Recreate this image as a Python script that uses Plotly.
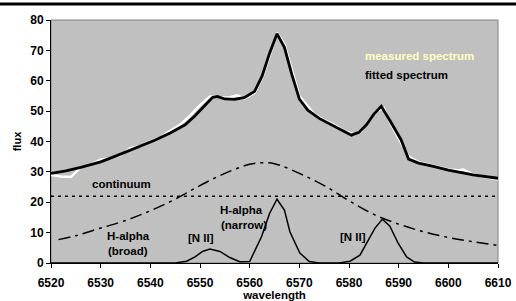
import plotly.graph_objects as go

# Measured spectrum
meas_wl = [6520, 6522, 6524, 6526, 6528, 6530, 6532, 6534, 6536, 6538, 6540, 6542, 6544, 6546, 6548,
           6550, 6552, 6554, 6556, 6557.5, 6559, 6561, 6562.5, 6564, 6565.5, 6567, 6568.5, 6570,
           6571.5, 6573, 6575, 6577, 6579, 6581, 6582.5, 6584, 6585.5, 6587, 6588.5, 6590, 6592,
           6594, 6596, 6598, 6600, 6602, 6603, 6605, 6607, 6610]
meas_flux = [29, 28.5, 28.3, 31.5, 32.5, 34, 34.5, 35.5, 37.8, 38.5, 40, 41.3, 43.5, 45.5, 48.5,
             52, 54.8, 54.5, 54.6, 55.2, 54.2, 56, 61, 68, 75.8, 72, 63.5, 55,
             52, 49, 47, 45.5, 43.5, 42.3, 43.5, 47, 50, 51, 45.5, 41, 35,
             33.2, 32.3, 31.6, 30.8, 30.5, 30.8, 29.2, 28.5, 27.5]

# Fitted spectrum
fit_wl = [6520, 6523, 6526, 6530, 6533, 6536, 6538, 6541, 6544, 6547, 6549, 6551, 6552.5, 6553.5,
          6555, 6557, 6559, 6561, 6562.5, 6564, 6565.5, 6567, 6568.5, 6570, 6571.7, 6574, 6577,
          6580.5, 6582, 6583.5, 6585, 6586.5, 6588.2, 6590.5, 6592, 6594, 6597, 6600, 6605, 6610]
fit_flux = [29.5, 30.3, 31.5, 33.3, 35.2, 37.2, 38.3, 40.5, 42.8, 45.5, 48.5, 52, 54.5, 54.8,
            54, 53.9, 54.5, 56.5, 61.5, 69, 75.5, 71, 62, 54, 50.3, 47.6, 45,
            42.1, 43, 45.5, 49, 51.6, 47, 40.5, 34.2, 32.9, 31.8, 30.6, 29, 27.9]

# Continuum
cont_wl = [6520, 6610]
cont_flux = [22, 22]

# H-alpha broad
broad_wl = [6521.5, 6525, 6530, 6535, 6540, 6545, 6550, 6555, 6560, 6562.5, 6565, 6570, 6575,
            6580, 6585, 6590, 6595, 6600, 6605, 6610]
broad_flux = [7.7, 9, 11.5, 14, 17.2, 21, 25.5, 29.5, 32.5, 33, 32.7, 29.5, 25.5,
              20.5, 16, 12.8, 10.3, 8.4, 7, 5.8]

# Narrow components ([N II], H-alpha narrow, [N II])
narrow_wl = [6520, 6545, 6547.3, 6549, 6550.5, 6552, 6554, 6556, 6558, 6560, 6562.4, 6564,
             6565.5, 6567, 6568.1, 6570.1, 6572, 6574, 6578, 6580.2, 6582.2, 6583.5, 6585.2,
             6586.7, 6588.2, 6589.9, 6591.6, 6593.2, 6595, 6610]
narrow_flux = [0, 0, 0.6, 2, 3.8, 4.6, 3.8, 1.8, 0.4, 0.5, 8.7, 16.3,
               21, 17.4, 10.3, 3.3, 0.5, 0, 0, 0.6, 2.6, 6.5, 11.4,
               14.4, 12.2, 6.5, 2, 0.3, 0, 0]

x_ticks = [6520, 6530, 6540, 6550, 6560, 6570, 6580, 6590, 6600, 6610]
y_ticks = [0, 10, 20, 30, 40, 50, 60, 70, 80]

FONT = "Liberation Sans, Arial, sans-serif"
W, H = 516, 301

fig = go.Figure()
fig.add_trace(go.Scatter(x=meas_wl, y=meas_flux, mode="lines",
                         line=dict(color="white", width=2.5), showlegend=False))
fig.add_trace(go.Scatter(x=fit_wl, y=fit_flux, mode="lines",
                         line=dict(color="black", width=2.8), showlegend=False))
fig.add_trace(go.Scatter(x=cont_wl, y=cont_flux, mode="lines",
                         line=dict(color="black", width=1.5, dash="3px,4px"), showlegend=False))
fig.add_trace(go.Scatter(x=broad_wl, y=broad_flux, mode="lines", line_shape="spline",
                         line=dict(color="black", width=1.5, dash="12px,5px,3px,5px"), showlegend=False))
fig.add_trace(go.Scatter(x=narrow_wl, y=narrow_flux, mode="lines",
                         line=dict(color="black", width=1.5), showlegend=False))

def ann(x, y, text, color="black", xanchor="center"):
    fig.add_annotation(x=x, y=y, xref="x", yref="y", text=text, showarrow=False,
                       xanchor=xanchor, yanchor="middle",
                       font=dict(family=FONT, size=11.5, color=color, weight="bold"))

ann(6582.9, 68.2, "measured spectrum", color="#FFFFC0", xanchor="left")
ann(6582.9, 62.0, "fitted spectrum", xanchor="left")
ann(6534.2, 25.9, "continuum")
ann(6535.6, 8.9, "H-alpha")
ann(6535.6, 4.0, "(broad)")
ann(6558.3, 17.4, "H-alpha")
ann(6558.9, 12.5, "(narrow)")
ann(6550.3, 8.2, "[N II]")
ann(6580.8, 8.5, "[N II]")

# plot area in pixels: left 51, right 498, top 20, bottom 263
x_dom = [51 / W, 498 / W]
y_dom = [1 - 263 / H, 1 - 20 / H]

fig.add_shape(type="line", xref="paper", yref="paper", x0=0, x1=1,
              y0=1 - 4 / H, y1=1 - 4 / H, line=dict(color="black", width=3))
fig.add_shape(type="rect", xref="paper", yref="paper", x0=x_dom[0], x1=x_dom[1],
              y0=y_dom[0], y1=y_dom[1], line=dict(color="#808080", width=1), layer="below")

fig.update_layout(
    width=W, height=H,
    margin=dict(l=0, r=0, t=0, b=0, autoexpand=False),
    paper_bgcolor="white", plot_bgcolor="#C0C0C0",
    font=dict(family=FONT, size=12, color="black"),
)
fig.update_xaxes(domain=x_dom, automargin=False, range=[6520, 6610], tickvals=x_ticks,
                 ticks="outside", ticklen=4, ticklabelstandoff=5,
                 tickcolor="black", showline=True, linecolor="black", linewidth=1,
                 showgrid=False, zeroline=False,
                 tickfont=dict(family=FONT, size=12, weight="bold"),
                 title=dict(text="wavelength", standoff=4,
                            font=dict(family=FONT, size=11.5, weight="bold")))
fig.update_yaxes(domain=y_dom, automargin=False, range=[0, 80], tickvals=y_ticks,
                 ticks="outside", ticklen=4,
                 tickcolor="black", showline=True, linecolor="black", linewidth=1,
                 showgrid=False, zeroline=False,
                 tickfont=dict(family=FONT, size=12, weight="bold"),
                 title=dict(text="flux", standoff=6,
                            font=dict(family=FONT, size=11, weight="bold")))

fig.write_html("out.html", config={"displayModeBar": False},
               post_script="document.body.style.margin='0';")
